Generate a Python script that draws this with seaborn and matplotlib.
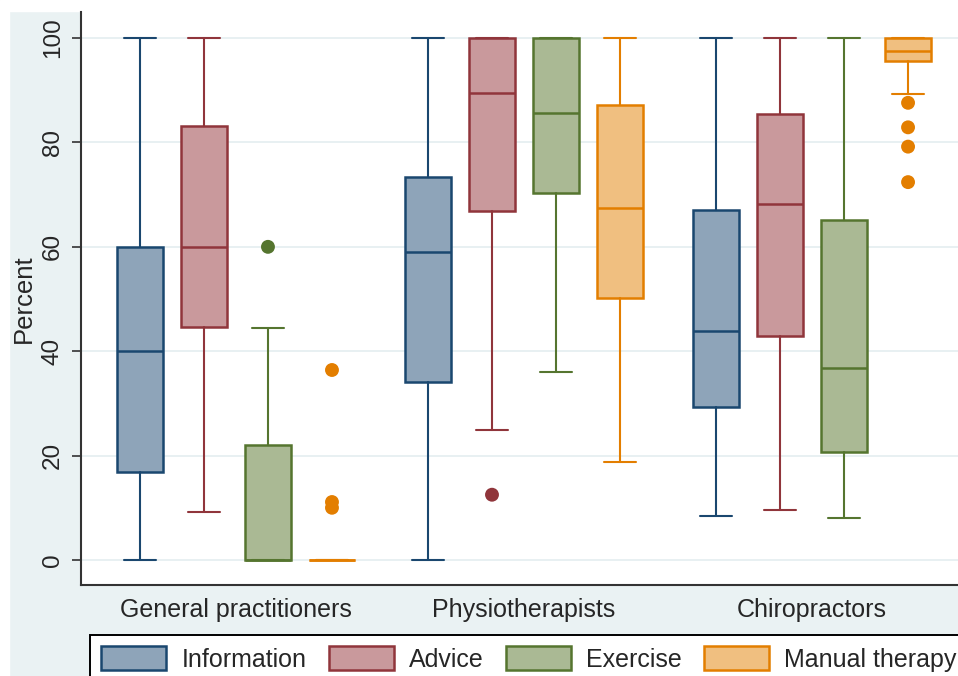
import pandas as pd
import matplotlib.pyplot as plt
import seaborn as sns
from matplotlib.patches import Patch, Rectangle

# Box statistics (rows: group, columns: series)
groups = ["General practitioners", "Physiotherapists", "Chiropractors"]
series = ["Information", "Advice", "Exercise", "Manual therapy"]
whislo = [[0, 9.2, 0, 0], [0, 24.9, 36.0, 18.8], [8.4, 9.5, 8.0, 89.3]]
q1 = [[16.9, 44.6, 0, 0], [34.1, 66.9, 70.4, 50.2], [29.3, 42.9, 20.7, 95.7]]
med = [[40, 60, 0, 0], [59.0, 89.5, 85.7, 67.5], [43.9, 68.2, 36.8, 97.5]]
q3 = [[60, 83.1, 22.0, 0], [73.4, 100, 100, 87.2], [67.1, 85.5, 65.1, 100]]
whishi = [[100, 100, 44.4, 0], [100, 100, 100, 100], [100, 100, 100, 100]]

# Outside values
out_group = ["General practitioners", "General practitioners", "General practitioners",
             "General practitioners", "Physiotherapists", "Chiropractors",
             "Chiropractors", "Chiropractors", "Chiropractors"]
out_series = ["Exercise", "Manual therapy", "Manual therapy", "Manual therapy", "Advice",
              "Manual therapy", "Manual therapy", "Manual therapy", "Manual therapy"]
out_value = [60, 36.4, 11.1, 10.0, 12.5, 87.6, 82.9, 79.2, 72.4]

line_colors = ["#1a476f", "#90353b", "#55752f", "#e37e00"]
fill_colors = ["#8ea4b9", "#c9999c", "#aab994", "#f0bf80"]
bg = "#eaf2f3"

sns.set_style("white")
plt.rcParams['font.family'] = ['Liberation Sans', 'DejaVu Sans']

fig = plt.figure(figsize=(9.58, 6.76), dpi=100, facecolor=bg)
fig.add_artist(Rectangle((0, 1 - 11 / 676), 1, 11 / 676, transform=fig.transFigure,
                         color="white", zorder=0))
fig.add_artist(Rectangle((0, 0), 9 / 958, 1, transform=fig.transFigure,
                         color="white", zorder=0))
ax = fig.add_axes([81 / 958, 1 - 585 / 676, (967 - 81) / 958, (585 - 12) / 676])
ax.set_facecolor("white")

step = 64 / 288
offsets = [(i - 1.5) * step for i in range(len(series))]

stats, positions = [], []
for gi in range(len(groups)):
    for si in range(len(series)):
        stats.append(dict(whislo=whislo[gi][si], q1=q1[gi][si], med=med[gi][si],
                          q3=q3[gi][si], whishi=whishi[gi][si], fliers=[]))
        positions.append(gi + offsets[si])

bp = ax.bxp(stats, positions=positions, widths=46 / 288, capwidths=32 / 288,
            patch_artist=True, showfliers=False, manage_ticks=False)
for i in range(len(stats)):
    si = i % len(series)
    lc, fc = line_colors[si], fill_colors[si]
    bp['boxes'][i].set(facecolor=fc, edgecolor=lc, linewidth=1.8)
    bp['medians'][i].set(color=lc, linewidth=1.8)
    for art in bp['whiskers'][2 * i:2 * i + 2] + bp['caps'][2 * i:2 * i + 2]:
        art.set(color=lc, linewidth=1.5)

df_out = pd.DataFrame({"group": out_group, "series": out_series, "value": out_value})
df_out["x"] = [groups.index(g) + offsets[series.index(s)]
               for g, s in zip(df_out["group"], df_out["series"])]
sns.scatterplot(data=df_out, x="x", y="value", hue="series",
                palette=dict(zip(series, line_colors)), s=100, edgecolor="none",
                legend=False, ax=ax, zorder=4)

ax.set_xlim(-0.538, 2.538)
ax.set_ylim(-4.8, 105)
ax.set_yticks([0, 20, 40, 60, 80, 100])
ax.set_yticklabels(["0", "20", "40", "60", "80", "100"], rotation=90, va="center")
ax.set_xticks(range(len(groups)))
ax.set_xticklabels(groups)
ax.tick_params(axis="y", length=6.5, width=1.2, pad=6, labelsize=17.5, color="#333333",
               left=True)
ax.tick_params(axis="x", length=0, pad=9, labelsize=18)
ax.set_xlabel("")
ax.set_ylabel("Percent", fontsize=18.5, labelpad=4)
ax.yaxis.grid(True, color="#e6eff1", linewidth=1.3)
ax.set_axisbelow(True)
for side in ["top", "right"]:
    ax.spines[side].set_visible(False)
for side in ["left", "bottom"]:
    ax.spines[side].set(color="#333333", linewidth=1.5)

handles = [Patch(facecolor=f, edgecolor=e, linewidth=1.8, label=s)
           for s, f, e in zip(series, fill_colors, line_colors)]
leg = fig.legend(handles=handles, ncol=4, loc="upper left",
                 bbox_to_anchor=(90 / 958, 1 - 635 / 676), bbox_transform=fig.transFigure,
                 fontsize=18, frameon=True, fancybox=False, handlelength=2.6,
                 handleheight=1.1, handletextpad=0.6, columnspacing=0.9,
                 borderpad=0.45, borderaxespad=0)
leg.get_frame().set(edgecolor="black", linewidth=1.4, facecolor="white", alpha=1)

fig.savefig("out.png", dpi=100, facecolor=fig.get_facecolor())
